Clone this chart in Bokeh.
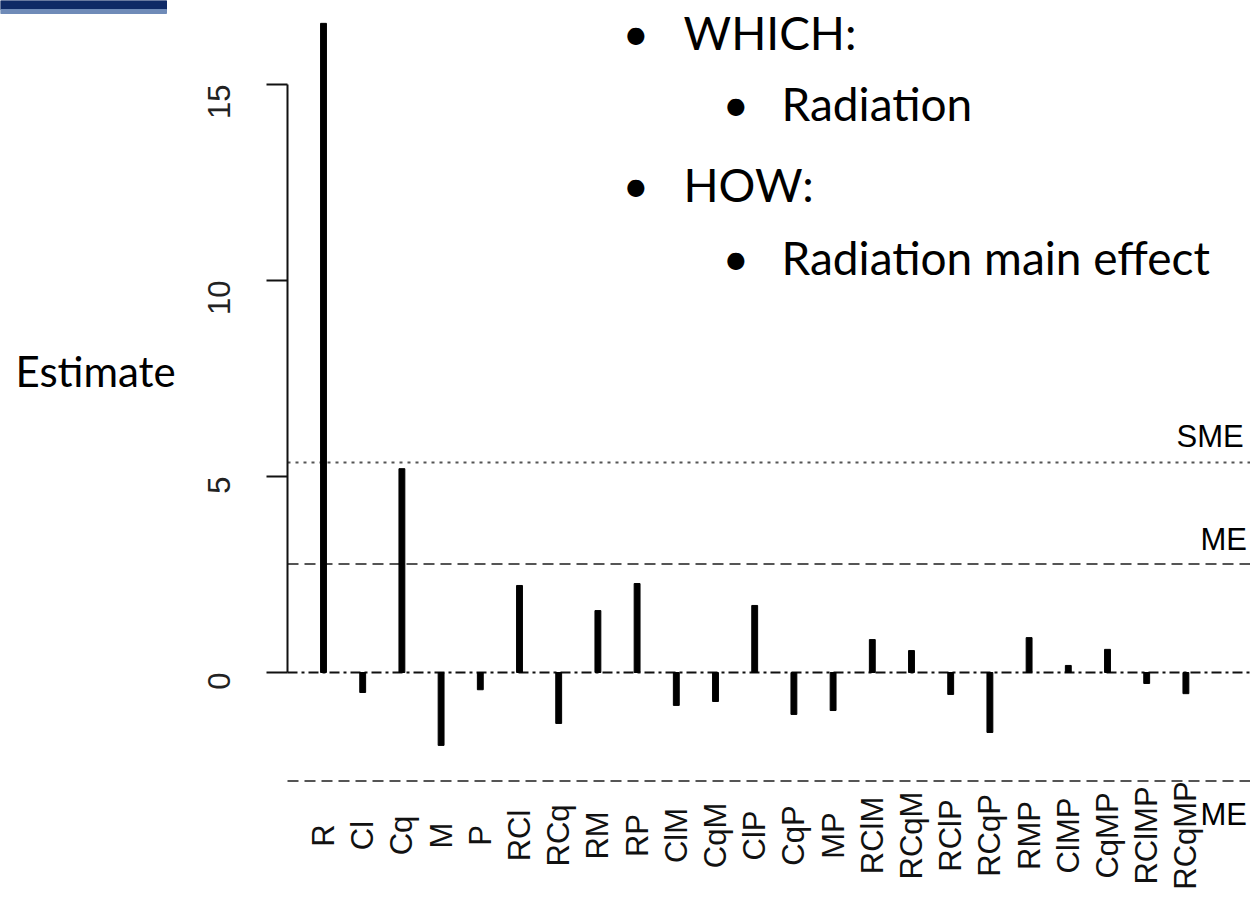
import math
from bokeh.plotting import figure
from bokeh.models import Range1d, LinearAxis, FixedTicker, Label, ColumnDataSource
from bokeh.core.properties import value
from bokeh.embed import file_html
from bokeh.resources import INLINE

# ---------------- data ----------------
effects = ["R", "Cl", "Cq", "M", "P", "RCl", "RCq", "RM", "RP", "ClM", "CqM", "ClP",
           "CqP", "MP", "RClM", "RCqM", "RClP", "RCqP", "RMP", "ClMP", "CqMP",
           "RClMP", "RCqMP"]
estimates = [16.56, -0.51, 5.20, -1.86, -0.44, 2.22, -1.30, 1.58, 2.27, -0.84, -0.74,
             1.71, -1.07, -0.97, 0.84, 0.56, -0.56, -1.53, 0.89, 0.18, 0.59, -0.28, -0.54]
ME = 2.77
SME = 5.36
y_ticks = [0, 5, 10, 15]
bullets = [("WHICH:", 1), ("Radiation", 2), ("HOW:", 1), ("Radiation main effect", 2)]

# ---------------- layout helpers (reference pixel -> data) ----------------
PX = 39.2          # pixels per unit (both axes)
X0_REF = 323       # reference x of first effect
Y0_REF = 672       # reference y of zero
def dx(ref_x):
    return (ref_x - X0_REF) / PX
def dy(ref_y):
    return (Y0_REF - ref_y) / PX

W, H = 1250, 889
AXIS_X = 287

p = figure(width=W, height=H, output_backend="svg", toolbar_location=None,
           x_range=Range1d(dx(0), dx(W)), y_range=Range1d(dy(H), dy(0)),
           x_axis_type=None, y_axis_type=None,
           min_border_left=0, min_border_right=0, min_border_top=0, min_border_bottom=0)
p.outline_line_color = None
p.background_fill_color = "white"
p.border_fill_color = "white"

yaxis = LinearAxis(ticker=FixedTicker(ticks=y_ticks), bounds=(0, 15),
                   fixed_location=dx(AXIS_X),
                   axis_line_width=2, axis_line_color="#111111",
                   major_tick_line_width=2, major_tick_line_color="#111111",
                   major_tick_out=21, major_tick_in=0,
                   minor_tick_out=0, minor_tick_in=0,
                   major_label_orientation=math.pi / 2,
                   major_label_standoff=48,
                   major_label_text_font="Liberation Sans",
                   major_label_text_font_size="31px",
                   major_label_text_color="#222222")
p.add_layout(yaxis, "left")

n = len(effects)
src = ColumnDataSource(dict(x=list(range(n)), est=estimates, label=effects,
                            ly=[dy(835)] * n))

# slide header bar (top-left)
p.quad(left=dx(0), right=dx(166), top=dy(0), bottom=dy(9), color="#0f2a66")
p.quad(left=dx(0), right=dx(166), top=dy(9), bottom=dy(13), color="#6f8bb8")

# reference lines
x_line0, x_line1 = dx(AXIS_X), dx(W)
p.segment(x0=x_line0, x1=x_line1, y0=SME, y1=SME, line_color="#555555", line_width=2, line_dash="3 5")
p.segment(x0=x_line0, x1=x_line1, y0=ME, y1=ME, line_color="#555555", line_width=2, line_dash="11 6")
p.segment(x0=x_line0, x1=x_line1, y0=-ME, y1=-ME, line_color="#555555", line_width=2, line_dash="11 6")
p.segment(x0=x_line0, x1=x_line1, y0=0, y1=0, line_color="#111111", line_width=2, line_dash="10 4 3 4")

# effect estimates
p.vbar(x="x", top="est", bottom=0, width=0.15, color="black", source=src)

# effect labels
p.text(x="x", y="ly", text="label", source=src, angle=math.pi / 2,
       text_align="center", text_baseline="middle",
       text_font=value("Liberation Sans"), text_font_size="31px", text_color="#111111")

def add_text(txt, rx, ry_base, font, size):
    corr = 0.42 if font == "Lato" else 0.355
    p.add_layout(Label(x=dx(rx), y=dy(ry_base - corr * size), text=txt, text_font=font,
                       text_font_size=f"{size}px", text_color="black",
                       text_baseline="alphabetic", text_align="left"))

# line labels
for txt, rx, ry in [("SME", 1176, 447), ("ME", 1200, 550), ("ME", 1200, 825)]:
    add_text(txt, rx, ry, "Liberation Sans", 31)

# slide texts
add_text("Estimate", 15, 388, "Lato", 42)

rows_y = [51, 122, 203, 276]
for (txt, lvl), ry in zip(bullets, rows_y):
    if lvl == 1:
        add_text("\u2022", 622, ry, "Lato", 46)
        add_text(txt, 683, ry, "Lato", 46)
    else:
        add_text("\u2022", 722, ry, "Lato", 46)
        add_text(txt, 781, ry, "Lato", 46)

open("out.html", "w").write(file_html(p, INLINE))
